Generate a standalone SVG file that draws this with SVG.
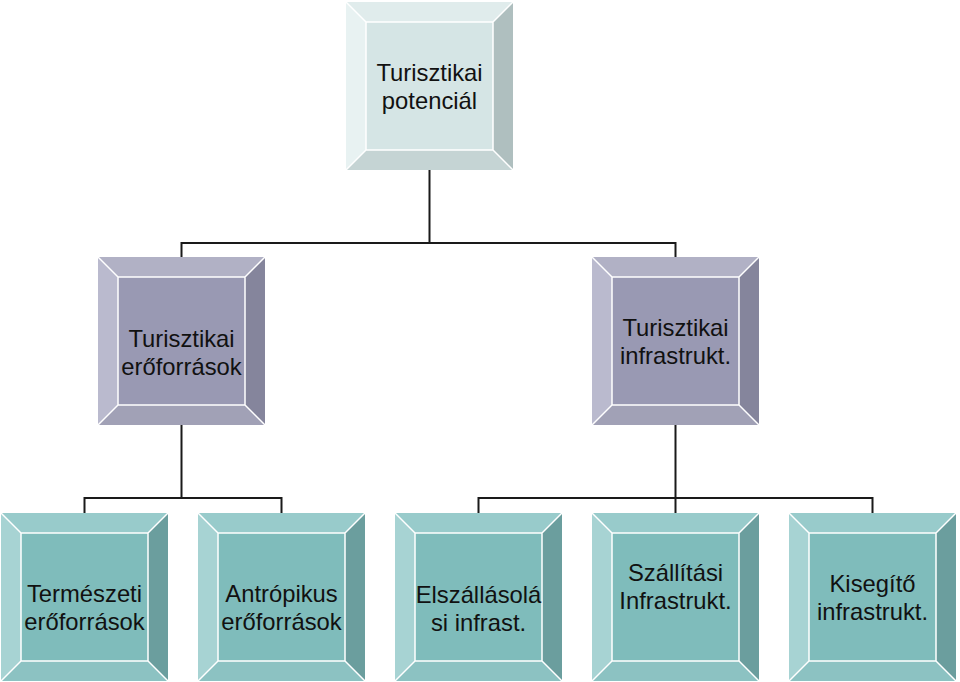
<svg xmlns="http://www.w3.org/2000/svg" width="960" height="682" viewBox="0 0 960 682">
<style>
.tx{font-family:"Liberation Sans",Arial,sans-serif;font-size:23.8px;fill:#111;text-anchor:middle}
.ln{stroke:#1a1a1a;stroke-width:2;fill:none}
.hl{stroke:#fff;stroke-width:1.5;fill:none}
.pale .t{fill:#e0ecec}.pale .l{fill:#e8f2f2}.pale .r{fill:#afbfbf}.pale .b{fill:#c5d4d4}.pale .c{fill:#d5e5e5}
.purp .t{fill:#b1b1c5}.purp .l{fill:#babace}.purp .r{fill:#85859c}.purp .b{fill:#a1a1b6}.purp .c{fill:#9999b3}
.teal .t{fill:#98cbcb}.teal .l{fill:#a7d3d3}.teal .r{fill:#6b9e9e}.teal .b{fill:#8cc2c2}.teal .c{fill:#7fbcbb}
</style>
<g id="connectors">
<path class="ln" d="M429.5 170 V243 M181.5 257 V243 H675.5 V257"/>
<path class="ln" d="M181.5 425 V498 M84.5 513 V498 H281.5 V513"/>
<path class="ln" d="M675.5 425 V513 M478.5 513 V498 H872.5 V513"/>
</g>
<g id="n-potencial" class="pale" transform="translate(346,2)">
<polygon class="t" points="0,0 167,0 147,20 20,20"/>
<polygon class="l" points="0,0 20,20 20,148 0,168"/>
<polygon class="r" points="167,0 167,168 147,148 147,20"/>
<polygon class="b" points="0,168 20,148 147,148 167,168"/>
<rect class="c" x="20" y="20" width="127" height="128"/>
<path class="hl" d="M20 20 H147 V148 H20 Z M0 0 L20 20 M167 0 L147 20 M0 168 L20 148 M167 168 L147 148"/>
<text class="tx" x="83.5" y="79">Turisztikai</text>
<text class="tx" x="83.5" y="107">potenciál</text>
</g>
<g id="n-eroforrasok" class="purp" transform="translate(98,257)">
<polygon class="t" points="0,0 167,0 147,20 20,20"/>
<polygon class="l" points="0,0 20,20 20,148 0,168"/>
<polygon class="r" points="167,0 167,168 147,148 147,20"/>
<polygon class="b" points="0,168 20,148 147,148 167,168"/>
<rect class="c" x="20" y="20" width="127" height="128"/>
<path class="hl" d="M20 20 H147 V148 H20 Z M0 0 L20 20 M167 0 L147 20 M0 168 L20 148 M167 168 L147 148"/>
<text class="tx" x="83.5" y="90">Turisztikai</text>
<text class="tx" x="83.5" y="118">erőforrások</text>
</g>
<g id="n-infrastrukt" class="purp" transform="translate(592,257)">
<polygon class="t" points="0,0 167,0 147,20 20,20"/>
<polygon class="l" points="0,0 20,20 20,148 0,168"/>
<polygon class="r" points="167,0 167,168 147,148 147,20"/>
<polygon class="b" points="0,168 20,148 147,148 167,168"/>
<rect class="c" x="20" y="20" width="127" height="128"/>
<path class="hl" d="M20 20 H147 V148 H20 Z M0 0 L20 20 M167 0 L147 20 M0 168 L20 148 M167 168 L147 148"/>
<text class="tx" x="83.5" y="79">Turisztikai</text>
<text class="tx" x="83.5" y="107">infrastrukt.</text>
</g>
<g id="n-termeszeti" class="teal" transform="translate(1,513)">
<polygon class="t" points="0,0 167,0 147,20 20,20"/>
<polygon class="l" points="0,0 20,20 20,148 0,168"/>
<polygon class="r" points="167,0 167,168 147,148 147,20"/>
<polygon class="b" points="0,168 20,148 147,148 167,168"/>
<rect class="c" x="20" y="20" width="127" height="128"/>
<path class="hl" d="M20 20 H147 V148 H20 Z M0 0 L20 20 M167 0 L147 20 M0 168 L20 148 M167 168 L147 148"/>
<text class="tx" x="83.5" y="89">Természeti</text>
<text class="tx" x="83.5" y="117">erőforrások</text>
</g>
<g id="n-antropikus" class="teal" transform="translate(198,513)">
<polygon class="t" points="0,0 167,0 147,20 20,20"/>
<polygon class="l" points="0,0 20,20 20,148 0,168"/>
<polygon class="r" points="167,0 167,168 147,148 147,20"/>
<polygon class="b" points="0,168 20,148 147,148 167,168"/>
<rect class="c" x="20" y="20" width="127" height="128"/>
<path class="hl" d="M20 20 H147 V148 H20 Z M0 0 L20 20 M167 0 L147 20 M0 168 L20 148 M167 168 L147 148"/>
<text class="tx" x="83.5" y="89">Antrópikus</text>
<text class="tx" x="83.5" y="117">erőforrások</text>
</g>
<g id="n-elszallasolasi" class="teal" transform="translate(395,513)">
<polygon class="t" points="0,0 167,0 147,20 20,20"/>
<polygon class="l" points="0,0 20,20 20,148 0,168"/>
<polygon class="r" points="167,0 167,168 147,148 147,20"/>
<polygon class="b" points="0,168 20,148 147,148 167,168"/>
<rect class="c" x="20" y="20" width="127" height="128"/>
<path class="hl" d="M20 20 H147 V148 H20 Z M0 0 L20 20 M167 0 L147 20 M0 168 L20 148 M167 168 L147 148"/>
<text class="tx" x="83.5" y="90">Elszállásolá</text>
<text class="tx" x="83.5" y="118">si infrast.</text>
</g>
<g id="n-szallitasi" class="teal" transform="translate(592,513)">
<polygon class="t" points="0,0 167,0 147,20 20,20"/>
<polygon class="l" points="0,0 20,20 20,148 0,168"/>
<polygon class="r" points="167,0 167,168 147,148 147,20"/>
<polygon class="b" points="0,168 20,148 147,148 167,168"/>
<rect class="c" x="20" y="20" width="127" height="128"/>
<path class="hl" d="M20 20 H147 V148 H20 Z M0 0 L20 20 M167 0 L147 20 M0 168 L20 148 M167 168 L147 148"/>
<text class="tx" x="83.5" y="68">Szállítási</text>
<text class="tx" x="83.5" y="96">Infrastrukt.</text>
</g>
<g id="n-kisegito" class="teal" transform="translate(789,513)">
<polygon class="t" points="0,0 167,0 147,20 20,20"/>
<polygon class="l" points="0,0 20,20 20,148 0,168"/>
<polygon class="r" points="167,0 167,168 147,148 147,20"/>
<polygon class="b" points="0,168 20,148 147,148 167,168"/>
<rect class="c" x="20" y="20" width="127" height="128"/>
<path class="hl" d="M20 20 H147 V148 H20 Z M0 0 L20 20 M167 0 L147 20 M0 168 L20 148 M167 168 L147 148"/>
<text class="tx" x="83.5" y="79">Kisegítő</text>
<text class="tx" x="83.5" y="107">infrastrukt.</text>
</g>
</svg>
